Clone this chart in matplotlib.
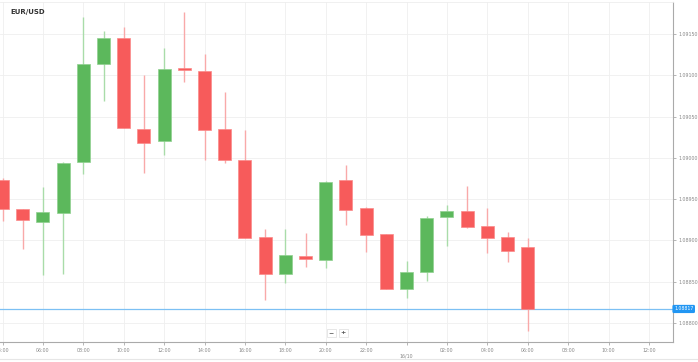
import numpy as np
import pandas as pd
import matplotlib
matplotlib.use("Agg")
import matplotlib.pyplot as plt
import matplotlib.dates as mdates
from matplotlib.ticker import FixedLocator

# ローソク足データ (EUR/USD, 1時間足)
times = ["2023-10-15 04:00", "2023-10-15 05:00", "2023-10-15 06:00", "2023-10-15 07:00",
         "2023-10-15 08:00", "2023-10-15 09:00", "2023-10-15 10:00", "2023-10-15 11:00",
         "2023-10-15 12:00", "2023-10-15 13:00", "2023-10-15 14:00", "2023-10-15 15:00",
         "2023-10-15 16:00", "2023-10-15 17:00", "2023-10-15 18:00", "2023-10-15 19:00",
         "2023-10-15 20:00", "2023-10-15 21:00", "2023-10-15 22:00", "2023-10-15 23:00",
         "2023-10-16 00:00", "2023-10-16 01:00", "2023-10-16 02:00", "2023-10-16 03:00",
         "2023-10-16 04:00", "2023-10-16 05:00", "2023-10-16 06:00"]
opens = [1.08973, 1.08938, 1.08922, 1.08933, 1.08995, 1.09114, 1.09145, 1.09035, 1.09020,
         1.09109, 1.09105, 1.09035, 1.08997, 1.08904, 1.08859, 1.08881, 1.08876, 1.08973,
         1.08939, 1.08908, 1.08841, 1.08862, 1.08928, 1.08936, 1.08917, 1.08904, 1.08892]
highs = [1.08975, 1.08938, 1.08965, 1.08995, 1.09171, 1.09154, 1.09158, 1.09100, 1.09133,
         1.09177, 1.09126, 1.09080, 1.09034, 1.08914, 1.08914, 1.08909, 1.08972, 1.08991,
         1.08940, 1.08908, 1.08875, 1.08930, 1.08943, 1.08966, 1.08939, 1.08910, 1.08903]
lows = [1.08924, 1.08890, 1.08858, 1.08859, 1.08980, 1.09069, 1.09036, 1.08982, 1.09003,
        1.09092, 1.08997, 1.08994, 1.08903, 1.08828, 1.08848, 1.08868, 1.08867, 1.08919,
        1.08886, 1.08841, 1.08830, 1.08851, 1.08893, 1.08915, 1.08885, 1.08874, 1.08790]
closes = [1.08938, 1.08925, 1.08934, 1.08994, 1.09114, 1.09145, 1.09036, 1.09018, 1.09108,
          1.09106, 1.09034, 1.08997, 1.08903, 1.08859, 1.08882, 1.08878, 1.08971, 1.08937,
          1.08907, 1.08841, 1.08862, 1.08927, 1.08936, 1.08916, 1.08903, 1.08887, 1.08817]
last_price = 1.08817
y_ticks = [1.08800, 1.08850, 1.08900, 1.08950, 1.09000, 1.09050, 1.09100, 1.09150]

GREEN = "#5cb85c"
RED = "#f75b5b"

fig = plt.figure(figsize=(6.98, 3.62), dpi=100)
ax = fig.add_axes([0.0, 20 / 362, 673 / 698, 340 / 362])

x = mdates.date2num(pd.to_datetime(times))
o = np.array(opens)
h = np.array(highs)
l = np.array(lows)
c = np.array(closes)
up = c >= o
hour = 1 / 24

# ヒゲ
ax.vlines(x[up], l[up], h[up], color="#a9dca9", lw=1.0, zorder=2)
ax.vlines(x[~up], l[~up], h[~up], color="#f9a9a9", lw=1.0, zorder=2)

# 実体
bottom = np.minimum(o, c)
height = np.maximum(np.abs(c - o), 0.000025)
ax.bar(x[up], height[up], bottom=bottom[up], width=0.64 * hour,
       color=GREEN, edgecolor="#8fd08f", lw=0.5, zorder=3)
ax.bar(x[~up], height[~up], bottom=bottom[~up], width=0.64 * hour,
       color=RED, edgecolor="#fb8a8a", lw=0.5, zorder=3)

# 軸の範囲
t0 = mdates.date2num(pd.Timestamp("2023-10-15 00:00"))
ax.set_xlim(t0 + 3.876 * hour, t0 + 37.19 * hour)
ax.set_ylim(1.08777, 1.091887)

# x軸の目盛り
xt = [t0 + k * hour for k in range(4, 37, 2)]
xlabels = []
for k in range(4, 37, 2):
    if k == 24:
        xlabels.append("\n16/10")
    else:
        xlabels.append("%02d:00" % (k % 24))
ax.xaxis.set_major_locator(FixedLocator(xt))
ax.set_xticklabels(xlabels)

# y軸の目盛り (右側)
ax.yaxis.tick_right()
ax.set_yticks(y_ticks)
ax.set_yticklabels(["%.5f" % v for v in y_ticks])
ax.tick_params(axis="both", labelsize=3.4, colors="#999999", length=2.5, width=0.5,
               pad=1.5, labelcolor="#888888")

# グリッド
ax.grid(True, color="#efefef", lw=0.6, zorder=0)
ax.set_axisbelow(True)

ax.spines["left"].set_visible(False)
ax.spines["top"].set_color("#eeeeee")
ax.spines["top"].set_linewidth(0.6)
ax.spines["right"].set_color("#aaaaaa")
ax.spines["bottom"].set_color("#aaaaaa")
ax.spines["right"].set_linewidth(0.8)
ax.spines["bottom"].set_linewidth(0.8)

# 現在値ライン
ax.axhline(last_price, color="#7cc0f4", lw=0.9, zorder=1)
ax.text(1.0015, last_price, "%.5f" % last_price, transform=ax.get_yaxis_transform(),
        ha="left", va="center", fontsize=3.3, color="white", zorder=5, clip_on=False,
        bbox=dict(boxstyle="round,pad=0.35,rounding_size=0.3", fc="#2196f3", ec="none"))

# タイトル
fig.text(10 / 698, 1 - 12 / 362, "EUR/USD", fontsize=5, fontweight="bold",
         color="#333333", ha="left", va="center")

# ズームボタン
for xp, s in [(331, "\u2212"), (343, "+")]:
    fig.text(xp / 698, 1 - 333 / 362, s, fontsize=4.5, fontweight="bold", color="#555555",
             ha="center", va="center",
             bbox=dict(boxstyle="square,pad=0.3", fc="white", ec="#dddddd", lw=0.5))

# 外枠の下線
fig.add_artist(plt.Line2D([0, 1], [3 / 362, 3 / 362], color="#e6e6e6", lw=0.8))

fig.savefig("out.png", dpi=100)
